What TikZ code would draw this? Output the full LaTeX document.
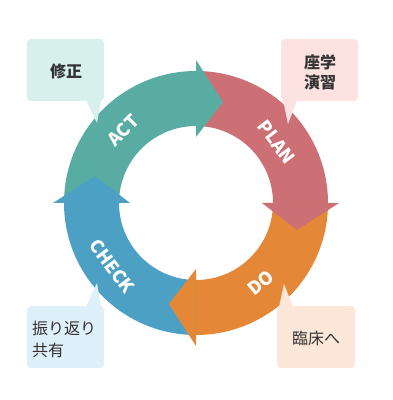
\documentclass[tikz,border=0pt]{standalone}
\usepackage{fontspec}
\usepackage{tikz}
\newfontfamily\jpfont{Noto Sans CJK JP}

\begin{document}
\begin{tikzpicture}[x=1pt,y=1pt,
  tag/.style={text=white,font=\jpfont\bfseries\fontsize{18}{18}\selectfont},
  memo/.style={text=txt,font=\jpfont\fontsize{16}{20}\selectfont,align=center,inner sep=0pt}]
\definecolor{actc}{RGB}{88,172,162}
\definecolor{planc}{RGB}{204,112,117}
\definecolor{doc}{RGB}{228,136,56}
\definecolor{chkc}{RGB}{76,160,196}
\definecolor{actl}{RGB}{215,240,236}
\definecolor{planl}{RGB}{253,226,226}
\definecolor{dol}{RGB}{252,231,216}
\definecolor{chkl}{RGB}{222,240,250}
\definecolor{txt}{RGB}{51,51,51}
\useasboundingbox (0,0) rectangle (393,400);
%% --- ring: bodies first (R=132, r=77), heads on top ---
\begin{scope}[shift={(196,197)}]
\fill[actc] (180:132) arc[start angle=180,end angle=90,radius=132] -- (90:77) arc[start angle=90,end angle=180,radius=77] -- cycle;
\fill[planc] (90:132) arc[start angle=90,end angle=0,radius=132] -- (0:77) arc[start angle=0,end angle=90,radius=77] -- cycle;
\fill[doc] (0:132) arc[start angle=0,end angle=-90,radius=132] -- (-90:77) arc[start angle=-90,end angle=0,radius=77] -- cycle;
\fill[chkc] (270:132) arc[start angle=270,end angle=180,radius=132] -- (180:77) arc[start angle=180,end angle=270,radius=77] -- cycle;
\fill[actc] (90:66) -- (90:143) -- (75:104.5) -- cycle;
\fill[planc] (0:66) -- (0:143) -- (-15:104.5) -- cycle;
\fill[doc] (-90:66) -- (-90:143) -- (-105:104.5) -- cycle;
\fill[chkc] (180:66) -- (180:143) -- (165:104.5) -- cycle;
\node[tag,rotate=45] (act) at (135:103) {ACT};
\node[tag,rotate=-53] (plan) at (37:101) {PLAN};
\node[tag,rotate=39] (do) at (-51:103) {DO};
\node[tag,rotate=-53] (check) at (217:105) {CHECK};
\end{scope}
%% --- callouts ---
\fill[actl,rounded corners=4pt] (27,299) rectangle (104,361);
\fill[actl] (86,300) -- (97,277) -- (101,300) -- cycle;
\node[memo,font=\jpfont\bfseries\fontsize{16}{20}\selectfont] (fix) at (66,329) {修正};
\fill[planl,rounded corners=4pt] (281,299) rectangle (358,361);
\fill[planl] (283,300) -- (288,276) -- (297,300) -- cycle;
\node[memo,font=\jpfont\bfseries\fontsize{16}{20}\selectfont] (study) at (320,328) {座学\\演習};
\fill[chkl,rounded corners=4pt] (27,32) rectangle (104,94);
\fill[chkl] (86,93) -- (97,117) -- (101,93) -- cycle;
\node[memo,align=left,anchor=west,font=\jpfont\fontsize{16}{22}\selectfont] (review) at (32,61) {振り返り\\共有};
\fill[dol,rounded corners=4pt] (277,32) rectangle (355,94);
\fill[dol] (279,93) -- (284,116) -- (293,93) -- cycle;
\node[memo] (clinic) at (316,62) {臨床へ};
\end{tikzpicture}
\end{document}
